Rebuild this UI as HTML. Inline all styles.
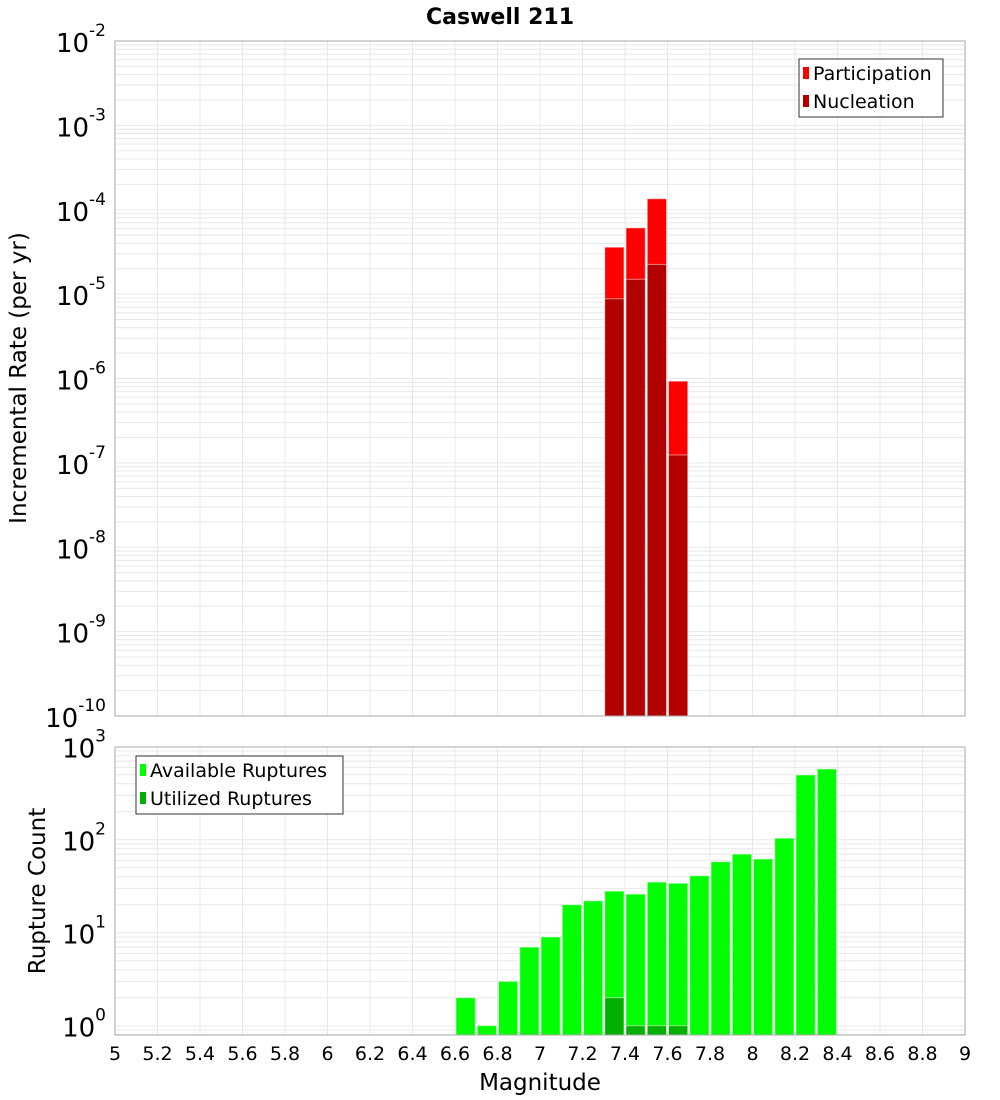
<!DOCTYPE html>
<html><head><meta charset="utf-8"><style>
body{margin:0;background:#fff;}
svg{display:block;font-family:"DejaVu Sans","Liberation Sans",sans-serif;}
</style></head><body>
<svg id="chart" width="1000" height="1100">
<text x="500" y="24" text-anchor="middle" font-size="22" font-weight="bold">Caswell 211</text>
<g id="topPlot"></g>
<g id="botPlot"></g>
<text transform="translate(26,378) rotate(-90)" text-anchor="middle" font-size="23">Incremental Rate (per yr)</text>
<text transform="translate(45,891) rotate(-90)" text-anchor="middle" font-size="23">Rupture Count</text>
<text x="540" y="1090" text-anchor="middle" font-size="23">Magnitude</text>
<g>
<rect x="799" y="59" width="144" height="58" fill="#fff" stroke="#333"/>
<rect x="803" y="67" width="6" height="12" fill="#ff0000"/>
<text x="813" y="80" font-size="19">Participation</text>
<rect x="803" y="95" width="6" height="12" fill="#b20000"/>
<text x="813" y="108" font-size="19">Nucleation</text>
</g>
<g>
<rect x="136" y="756" width="207" height="58" fill="#fff" stroke="#333"/>
<rect x="140" y="764" width="6" height="12" fill="#00ff00"/>
<text x="150" y="777" font-size="19">Available Ruptures</text>
<rect x="140" y="792" width="6" height="12" fill="#00b000"/>
<text x="150" y="805" font-size="19">Utilized Ruptures</text>
</g>
</svg>
<script>
const rateMags=[7.35,7.45,7.55,7.65];
const participation=[3.6e-5,6.1e-5,1.35e-4,9.3e-7];
const nucleation=[8.8e-6,1.5e-5,2.25e-5,1.24e-7];
const countMags=[6.65,6.75,6.85,6.95,7.05,7.15,7.25,7.35,7.45,7.55,7.65,7.75,7.85,7.95,8.05,8.15,8.25,8.35];
const available=[2,1,3,7,9,20,22,28,26,35,34,41,58,70,62,104,497,576];
const utilizedMags=[7.35,7.45,7.55,7.65];
const utilized=[2,1,1,1];
const xTicks=[5,5.2,5.4,5.6,5.8,6,6.2,6.4,6.6,6.8,7,7.2,7.4,7.6,7.8,8,8.2,8.4,8.6,8.8,9];
const topDecades=[-2,-3,-4,-5,-6,-7,-8,-9,-10];
const botDecades=[3,2,1,0];

const NS='http://www.w3.org/2000/svg';
const X0=115,X1=965;
const xs=m=>X0+(m-5)/4*(X1-X0);
const yTop=v=>41+(-2-Math.log10(v))*84.375;
const yBot=v=>1025.7-Math.log10(v)*93;
function mk(tag,attrs,parent){const e=document.createElementNS(NS,tag);for(const k in attrs)e.setAttribute(k,attrs[k]);parent.appendChild(e);return e;}
const gTop=document.getElementById('topPlot'),gBot=document.getElementById('botPlot');

function grid(g,y0,y1,yf,dmin,dmax){
  for(let d=dmin;d<dmax;d++)for(let k=1;k<10;k++){const yy=yf(k*Math.pow(10,d));if(yy<y0||yy>y1)continue;
    const l=mk('line',{x1:X0,x2:X1,y1:yy,y2:yy,stroke:'#e8e8e8','stroke-width':1},g);
    
    }
  xTicks.forEach(t=>{const l=mk('line',{x1:xs(t),x2:xs(t),y1:y0,y2:y1,stroke:'#e8e8e8'},g);
    
    });
}
grid(gTop,41,716,yTop,-10,-2);
grid(gBot,747,1035,yBot,-1,3);

function bar(g,m,v,yf,base,fill,name){
  const yy=yf(v);
  const r=mk('rect',{x:xs(m-0.05)+1,y:yy,width:xs(m+0.05)-xs(m-0.05)-2,height:base-yy,fill:fill,stroke:'#fff','stroke-opacity':0.5,'stroke-width':1},g);
  
  
}
rateMags.forEach((m,i)=>bar(gTop,m,participation[i],yTop,716,'#ff0000','participation-bar'));
rateMags.forEach((m,i)=>bar(gTop,m,nucleation[i],yTop,716,'#b20000','nucleation-bar'));
countMags.forEach((m,i)=>bar(gBot,m,available[i],yBot,1035,'#00ff00','available-bar'));
utilizedMags.forEach((m,i)=>bar(gBot,m,utilized[i],yBot,1035,'#00b000','utilized-bar'));

mk('rect',{x:X0,y:41,width:X1-X0,height:675,fill:'none',stroke:'#aaa'},gTop);
mk('rect',{x:X0,y:747,width:X1-X0,height:288,fill:'none',stroke:'#aaa'},gBot);

function ylab(g,d,yy,name){
  const t=mk('text',{x:106,y:yy+11,'text-anchor':'end','font-size':26},g);
  
  
  t.textContent='10';
  const s=mk('tspan',{dy:-16,'font-size':17},t);s.textContent=String(d);
}
topDecades.forEach(d=>ylab(gTop,d,yTop(Math.pow(10,d)),'y-tick-label-rate'));
botDecades.forEach(d=>ylab(gBot,d,yBot(Math.pow(10,d)),'y-tick-label-count'));
xTicks.forEach(t=>{const e=mk('text',{x:xs(t),y:1060,'text-anchor':'middle','font-size':19},gBot);
  
  
  e.textContent=String(t);});
</script>
</body></html>
